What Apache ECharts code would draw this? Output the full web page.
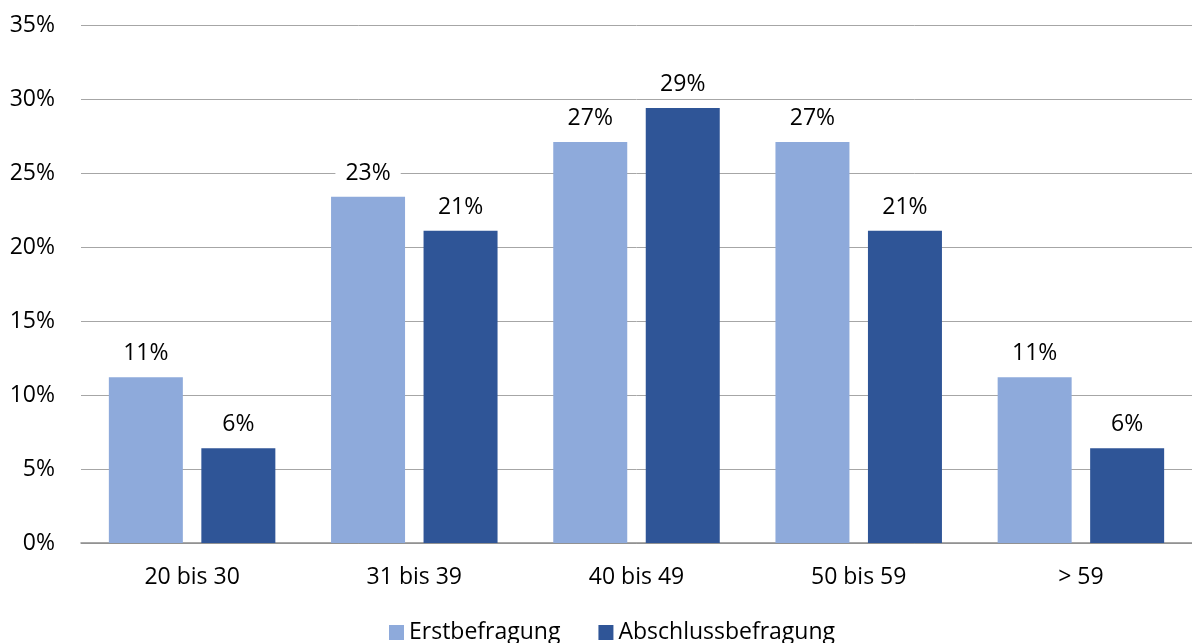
<!DOCTYPE html>
<html>
<head>
<meta charset="utf-8">
<script src="https://cdn.jsdelivr.net/npm/echarts@6/dist/echarts.min.js"></script>
<style>
  html, body { margin: 0; padding: 0; background: #fff; }
  #chart { width: 1192px; height: 643px; }
</style>
</head>
<body>
<div id="chart"></div>
<script>
// Altersgruppen und Anteile (in %) je Befragung
const categories = ['20 bis 30', '31 bis 39', '40 bis 49', '50 bis 59', '> 59'];
const erstbefragung = [11.2, 23.4, 27.1, 27.1, 11.2];
const abschlussbefragung = [6.4, 21.1, 29.4, 21.1, 6.4];
const yTicks = [0, 5, 10, 15, 20, 25, 30, 35];

const FONT = '"Open Sans", sans-serif';
const FS = 23;
const chart = echarts.init(document.getElementById('chart'), null, { renderer: 'canvas' });

const labelStyle = {
  show: true,
  position: 'top',
  distance: 10,
  formatter: p => Math.round(p.value) + '%',
  color: '#000',
  fontFamily: FONT,
  fontSize: FS,
  backgroundColor: '#fff',
  padding: [2, 10]
};

chart.setOption({
  animation: false,
  textStyle: { fontFamily: FONT },
  grid: { left: 81, right: 0, top: 25, bottom: 100, containLabel: false },
  legend: {
    top: 621,
    left: 389,
    padding: 0,
    itemWidth: 15,
    itemHeight: 15,
    itemGap: 38,
    icon: 'rect',
    textStyle: { fontFamily: FONT, fontSize: FS, color: '#000' },
    data: ['Erstbefragung', 'Abschlussbefragung']
  },
  xAxis: {
    type: 'category',
    data: categories,
    axisLine: { lineStyle: { color: '#8c8c8c', width: 1.5 } },
    axisTick: { show: false },
    axisLabel: { margin: 23, color: '#000', fontFamily: FONT, fontSize: FS }
  },
  yAxis: {
    type: 'value',
    min: yTicks[0],
    max: yTicks[yTicks.length - 1],
    interval: yTicks[1] - yTicks[0],
    axisLine: { show: false },
    axisTick: { show: false },
    axisLabel: { margin: 26, color: '#000', fontFamily: FONT, fontSize: FS, formatter: v => v + '%' },
    splitLine: { lineStyle: { color: '#a6a6a6', width: 1 } }
  },
  series: [
    {
      name: 'Erstbefragung',
      type: 'bar',
      data: erstbefragung,
      barWidth: 74,
      barGap: '25%',
      itemStyle: { color: '#8eaadb' },
      label: labelStyle
    },
    {
      name: 'Abschlussbefragung',
      type: 'bar',
      data: abschlussbefragung,
      barWidth: 74,
      barGap: '25%',
      itemStyle: { color: '#2f5597' },
      label: labelStyle
    }
  ]
});
</script>
</body>
</html>
